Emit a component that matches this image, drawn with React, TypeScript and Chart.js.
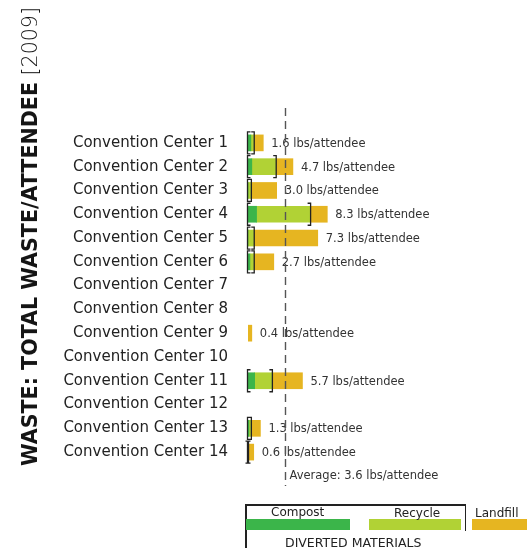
import React, { useEffect, useRef } from "react";
import { Chart, registerables } from "chart.js";

Chart.register(...registerables);

const categories = [
  "Convention Center 1",
  "Convention Center 2",
  "Convention Center 3",
  "Convention Center 4",
  "Convention Center 5",
  "Convention Center 6",
  "Convention Center 7",
  "Convention Center 8",
  "Convention Center 9",
  "Convention Center 10",
  "Convention Center 11",
  "Convention Center 12",
  "Convention Center 13",
  "Convention Center 14",
];
const compost = [0.3, 0.4, 0, 0.9, 0, 0.2, null, null, null, null, 0.7, null, 0.1, 0];
const recycle = [0.3, 2.5, 0.3, 5.6, 0.6, 0.4, null, null, null, null, 1.8, null, 0.2, 0];
const landfill = [1.0, 1.8, 2.7, 1.8, 6.7, 2.1, null, null, 0.4, null, 3.2, null, 1.0, 0.6];
const totals = [1.6, 4.7, 3.0, 8.3, 7.3, 2.7, null, null, 0.4, null, 5.7, null, 1.3, 0.6];
const averageValue = 3.6;
const averageLinePosition = 3.9;

const COLORS = { compost: "#3bb54a", recycle: "#b1d235", landfill: "#e6b521" };
const FONT = "'DejaVu Sans'";

const overlayPlugin = {
  id: "overlay",
  afterDatasetsDraw(chart: any) {
    const { ctx } = chart;
    const xs = chart.scales.x;
    const ys = chart.scales.y;
    ctx.save();
    ctx.strokeStyle = "#222";
    ctx.lineWidth = 1.3;
    categories.forEach((_, i) => {
      const c = compost[i];
      const r = recycle[i];
      if (c === null || r === null) return;
      const x0 = xs.getPixelForValue(0) - 0.5;
      const x1 = xs.getPixelForValue((c as number) + (r as number)) + 0.5;
      const yc = ys.getPixelForValue(i);
      const h = 11;
      ctx.beginPath();
      ctx.moveTo(x0 + 3, yc - h);
      ctx.lineTo(x0, yc - h);
      ctx.lineTo(x0, yc + h);
      ctx.lineTo(x0 + 3, yc + h);
      ctx.moveTo(x1 - 3, yc - h);
      ctx.lineTo(x1, yc - h);
      ctx.lineTo(x1, yc + h);
      ctx.lineTo(x1 - 3, yc + h);
      ctx.stroke();
    });
    ctx.fillStyle = "#333";
    ctx.font = `11.5px ${FONT}`;
    ctx.textBaseline = "middle";
    ctx.textAlign = "left";
    categories.forEach((_, i) => {
      const t = totals[i];
      if (t === null) return;
      const sum = (compost[i] || 0) + (recycle[i] || 0) + (landfill[i] || 0);
      const x = xs.getPixelForValue(sum) + 8;
      const y = ys.getPixelForValue(i) + 1;
      ctx.fillText(`${(t as number).toFixed(1)} lbs/attendee`, x, y);
    });
    const ax = Math.round(xs.getPixelForValue(averageLinePosition)) + 0.5;
    ctx.strokeStyle = "#555";
    ctx.lineWidth = 1.4;
    ctx.setLineDash([8, 5]);
    ctx.beginPath();
    ctx.moveTo(ax, 108);
    ctx.lineTo(ax, 486);
    ctx.stroke();
    ctx.setLineDash([]);
    ctx.fillStyle = "#333";
    ctx.fillText(`Average: ${averageValue.toFixed(1)} lbs/attendee`, ax + 4, 476);
    ctx.restore();
  },
};

export default function App() {
  const ref = useRef<HTMLCanvasElement>(null);
  useEffect(() => {
    if (!ref.current) return;
    const chart = new Chart(ref.current, {
      type: "bar",
      data: {
        labels: categories,
        datasets: [
          { label: "Compost", data: compost as any, backgroundColor: COLORS.compost, barThickness: 16 },
          { label: "Recycle", data: recycle as any, backgroundColor: COLORS.recycle, barThickness: 16 },
          { label: "Landfill", data: landfill as any, backgroundColor: COLORS.landfill, barThickness: 16 },
        ],
      },
      options: {
        indexAxis: "y",
        animation: false,
        responsive: false,
        maintainAspectRatio: false,
        layout: { padding: { left: 0, right: 0, top: 131, bottom: 84 } },
        plugins: { legend: { display: false }, tooltip: { enabled: false } },
        scales: {
          x: { stacked: true, min: 0, max: 29.2, display: false },
          y: {
            stacked: true,
            grid: { display: false, drawTicks: false },
            border: { display: false },
            ticks: { color: "#222", padding: 20, font: { family: FONT, size: 15 } },
            afterFit: (scale: any) => {
              scale.width = 248;
            },
          },
        },
      },
      plugins: [overlayPlugin],
    });
    return () => chart.destroy();
  }, []);

  const text: React.CSSProperties = {
    position: "absolute",
    fontFamily: FONT,
    fontSize: 12,
    color: "#222",
    whiteSpace: "nowrap",
    lineHeight: "14px",
  };

  return (
    <div style={{ position: "fixed", left: 0, top: 0, width: 527, height: 548, background: "#fff", overflow: "hidden" }}>
      <canvas ref={ref} width={527} height={548} style={{ position: "absolute", left: 0, top: 0 }} />
      <div
        style={{
          position: "absolute",
          left: 18,
          top: 466,
          transformOrigin: "0 0",
          transform: "rotate(-90deg)",
          fontFamily: FONT,
          fontSize: 20.6,
          lineHeight: "24px",
          whiteSpace: "nowrap",
          color: "#151515",
        }}
      >
        <span style={{ fontWeight: 700 }}>WASTE: TOTAL WASTE/ATTENDEE</span>
        <span style={{ fontWeight: 200 }}> [2009]</span>
      </div>
      <div style={{ position: "absolute", left: 245, top: 504, width: 1.5, height: 44, background: "#222" }} />
      <div style={{ position: "absolute", left: 245, top: 504, width: 221, height: 1.5, background: "#222" }} />
      <div style={{ position: "absolute", left: 464.5, top: 504, width: 1.5, height: 27, background: "#222" }} />
      <div style={{ position: "absolute", left: 246, top: 519, width: 104, height: 11, background: COLORS.compost }} />
      <div style={{ position: "absolute", left: 369, top: 519, width: 92, height: 11, background: COLORS.recycle }} />
      <div style={{ position: "absolute", left: 472, top: 519, width: 60, height: 11, background: COLORS.landfill }} />
      <div style={{ ...text, left: 271, top: 505 }}>Compost</div>
      <div style={{ ...text, left: 394, top: 506 }}>Recycle</div>
      <div style={{ ...text, left: 475, top: 506 }}>Landfill</div>
      <div style={{ ...text, left: 285, top: 536, fontSize: 12.5 }}>DIVERTED MATERIALS</div>
    </div>
  );
}
